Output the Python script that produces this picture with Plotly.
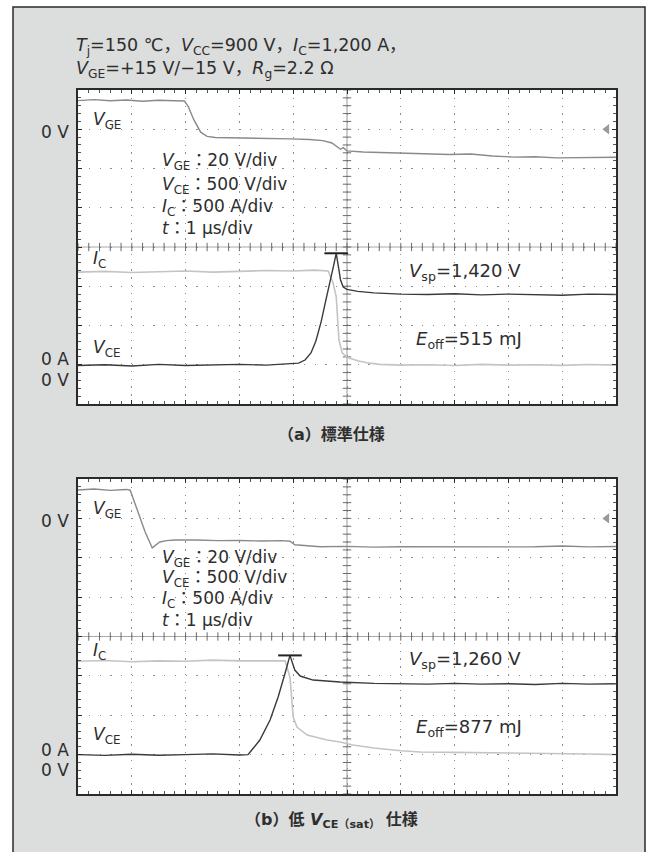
import numpy as np
import plotly.graph_objects as go

# ---------------- data ----------------
# time axis: 1 us/div, 10 div
# Panel (a) standard spec
A_VGE_T = [0, 0.3, 0.6, 0.9, 1.2, 1.5, 1.8, 1.98, 2.05, 2.15, 2.28, 2.4, 2.55, 2.8, 3.2, 3.6, 3.95,
           4.3, 4.55, 4.72, 4.82, 4.88, 4.93, 5.0, 5.3, 5.7, 6.1, 6.5, 6.9, 7.3, 7.7, 8.1, 8.5, 8.9,
           9.3, 9.7, 10.0]
A_VGE_V = [14.6, 15.1, 14.5, 14.9, 14.3, 14.8, 14.5, 14.4, 11.5, 5.0, -1.5, -3.6, -4.2, -4.3, -4.6,
           -4.5, -4.9, -5.2, -5.8, -7.0, -8.8, -10.2, -9.4, -11.0, -11.6, -12.0, -12.4, -12.7, -12.9,
           -12.6, -13.6, -14.2, -14.0, -14.6, -14.4, -14.5, -14.3]
A_IC_T = [0, 0.5, 1.0, 1.5, 2.0, 2.5, 3.0, 3.5, 4.0, 4.4, 4.65, 4.74, 4.80, 4.82, 4.85, 4.91, 5.02,
          5.2, 5.37, 5.61, 6.0, 6.5, 7.0, 7.5, 8.0, 8.5, 9.0, 9.5, 10.0]
A_IC_I = [1180, 1190, 1175, 1185, 1195, 1180, 1190, 1200, 1195, 1205, 1195, 1045, 866, 611, 318,
          153, 89, 50, 25, 5, -5, 0, -10, 5, -5, 0, -8, 3, -5]
A_VCE_T = [0, 0.5, 1.0, 1.5, 2.0, 2.5, 3.0, 3.5, 4.0, 4.1, 4.22, 4.33, 4.42, 4.52, 4.6, 4.68, 4.75,
           4.80, 4.84, 4.88, 4.93, 5.0, 5.2, 5.5, 6.0, 6.5, 7.0, 7.5, 8.0, 8.5, 9.0, 9.5, 10.0]
A_VCE_V = [-10, 0, -15, 5, -10, -5, 5, -5, 10, 20, 60, 150, 300, 550, 800, 1030, 1260, 1420, 1250,
           1080, 990, 960, 935, 915, 900, 895, 905, 890, 900, 895, 885, 900, 895]

# Panel (b) low VCE(sat) spec
B_VGE_T = [0, 0.3, 0.6, 0.9, 0.97, 1.05, 1.15, 1.25, 1.38, 1.45, 1.52, 1.65, 1.8, 2.2, 2.6, 3.0,
           3.4, 3.8, 3.94, 4.03, 4.2, 4.5, 5.0, 5.5, 6.0, 6.5, 7.0, 7.5, 8.0, 8.5, 9.0, 9.5, 10.0]
B_VGE_V = [14.4, 14.9, 14.2, 14.7, 14.3, 8.0, 0.7, -7.0, -15.0, -13.5, -12.0, -11.3, -11.0, -11.0,
           -11.3, -11.2, -11.5, -11.3, -11.6, -13.4, -13.8, -14.4, -14.2, -14.6, -14.4, -14.5,
           -14.3, -14.6, -14.5, -14.4, -14.0, -14.5, -14.3]
B_IC_T = [0, 0.5, 1.0, 1.5, 2.0, 2.5, 3.0, 3.5, 3.85, 3.94, 3.98, 4.0, 4.07, 4.26, 4.63, 4.87,
          5.11, 5.5, 6.0, 6.36, 7.0, 7.5, 8.22, 9.0, 9.5, 10.0]
B_IC_I = [1185, 1195, 1180, 1190, 1185, 1200, 1190, 1195, 1190, 985, 693, 477, 350, 249, 185, 160,
          122, 85, 50, 33, 28, 25, 20, 12, 8, 0]
B_VCE_T = [0, 0.5, 1.0, 1.5, 2.0, 2.5, 3.0, 3.16, 3.2, 3.38, 3.57, 3.72, 3.85, 3.94, 4.03, 4.13,
           4.37, 4.87, 5.5, 6.0, 6.5, 7.0, 7.5, 8.0, 8.5, 9.0, 9.5, 10.0]
B_VCE_V = [0, -10, 5, -8, 0, 10, -5, 0, 33, 185, 439, 732, 1036, 1260, 1074, 998, 947, 922, 905,
           900, 895, 905, 895, 900, 890, 905, 895, 900]

A_VSP = 1420
B_VSP = 1260
A_EOFF = 515
B_EOFF = 877

HEADER_1 = "<i>T</i><sub>j</sub>=150 ℃，<i>V</i><sub>CC</sub>=900 V，<i>I</i><sub>C</sub>=1,200 A，"
HEADER_2 = "<i>V</i><sub>GE</sub>=+15 V/−15 V，<i>R</i><sub>g</sub>=2.2 Ω"
SCALE_LINES = ["<i>V</i><sub>GE</sub>：20 V/div", "<i>V</i><sub>CE</sub>：500 V/div",
               "<i>I</i><sub>C</sub>：500 A/div", "<i>t</i>：1 µs/div"]
CAPTION_A = "（a）標準仕様"
CAPTION_B = "（b）低 <i>V</i><sub>CE（sat）</sub> 仕様"

# ---------------- styling ----------------
W, H = 655, 852
FONT = "DejaVu Sans, Noto Sans CJK JP"
TXT = "#2e2e2e"
BG = "#dcdddd"
FRAME = "#2a2a2a"
GRID = "#8c8c8c"
C_VGE = "#8a8a8a"
C_VCE = "#3a3a3a"
C_IC = "#c4c4c4"


def px(x, y):
    return x / W, 1 - y / H


PLOT_L, PLOT_R = 78, 616
PANELS = [(90, 404), (479, 794)]

fig = go.Figure()

layout = dict(width=W, height=H, margin=dict(l=0, r=0, t=0, b=0),
              paper_bgcolor=BG, plot_bgcolor="white", showlegend=False,
              font=dict(family=FONT, color=TXT))

panel_data = [
    (A_VGE_T, A_VGE_V, A_IC_T, A_IC_I, A_VCE_T, A_VCE_V, A_VSP, A_EOFF),
    (B_VGE_T, B_VGE_V, B_IC_T, B_IC_I, B_VCE_T, B_VCE_V, B_VSP, B_EOFF),
]

shapes = []
annotations = []


def add(text, x, y, size=16, xanchor="left", family=FONT):
    ax, ay = px(x, y)
    annotations.append(dict(text=text, x=ax, y=ay, xref="paper", yref="paper",
                            xanchor=xanchor, yanchor="middle", showarrow=False,
                            font=dict(size=size, family=family, color=TXT)))


for i, (top, bot) in enumerate(PANELS):
    xname = "x" if i == 0 else "x2"
    xkey = "xaxis" if i == 0 else "xaxis2"
    yv = "y" if i == 0 else "y3"
    yvkey = "yaxis" if i == 0 else "yaxis3"
    yc = "y2" if i == 0 else "y4"
    yckey = "yaxis2" if i == 0 else "yaxis4"
    xd = [PLOT_L / W, PLOT_R / W]
    yd = [1 - bot / H, 1 - top / H]

    layout[xkey] = dict(domain=xd, anchor=yv, range=[0, 10], dtick=1, tick0=0,
                        showgrid=True, gridcolor=GRID, gridwidth=1.3, griddash="1.3px,6.5px",
                        zeroline=False, showticklabels=False,
                        ticks="inside", ticklen=4, tickcolor=FRAME, tickwidth=1,
                        minor=dict(dtick=0.2, ticks="inside", ticklen=3, tickcolor="#555",
                                   tickwidth=1, showgrid=False),
                        showline=True, linecolor=FRAME, linewidth=1.5, mirror="ticks",
                        fixedrange=True)
    layout[yvkey] = dict(domain=yd, anchor=xname, range=[-140, 20], dtick=20, tick0=0,
                         showgrid=True, gridcolor=GRID, gridwidth=1.3, griddash="1.3px,9.45px",
                         zeroline=False, showticklabels=False,
                         ticks="inside", ticklen=4, tickcolor=FRAME, tickwidth=1,
                         minor=dict(dtick=4, ticks="inside", ticklen=3, tickcolor="#555",
                                    tickwidth=1, showgrid=False),
                         showline=True, linecolor=FRAME, linewidth=1.5, mirror="ticks",
                         fixedrange=True)
    layout[yckey] = dict(overlaying=yv, anchor=xname, range=[-500, 3500], visible=False,
                         showgrid=False, zeroline=False, fixedrange=True)

    # crosshair
    shapes.append(dict(type="line", xref=xname, yref=yv, x0=5, x1=5, y0=-140, y1=20,
                       line=dict(color="#9a9a9a", width=1), layer="below"))
    shapes.append(dict(type="line", xref=xname, yref=yv, x0=0, x1=10, y0=-60, y1=-60,
                       line=dict(color="#a8a8a8", width=1), layer="below"))
    fig.add_trace(go.Scatter(x=np.arange(0, 10.001, 0.2), y=np.full(51, -60.0), mode="markers",
                             xaxis=xname, yaxis=yv, hoverinfo="skip",
                             marker=dict(symbol="line-ns", size=6,
                                         line=dict(color="#6a6a6a", width=1))))
    fig.add_trace(go.Scatter(x=np.full(41, 5.0), y=np.arange(-140, 20.001, 4), mode="markers",
                             xaxis=xname, yaxis=yv, hoverinfo="skip",
                             marker=dict(symbol="line-ew", size=6,
                                         line=dict(color="#6a6a6a", width=1))))

    vt, vv, it, ii, ct, cv, vsp, eoff = panel_data[i]
    fig.add_trace(go.Scatter(x=it, y=ii, mode="lines", xaxis=xname, yaxis=yc,
                             line=dict(color=C_IC, width=1.6), hoverinfo="skip"))
    fig.add_trace(go.Scatter(x=ct, y=cv, mode="lines", xaxis=xname, yaxis=yc,
                             line=dict(color=C_VCE, width=1.4), hoverinfo="skip"))
    fig.add_trace(go.Scatter(x=vt, y=vv, mode="lines", xaxis=xname, yaxis=yv,
                             line=dict(color=C_VGE, width=1.4), hoverinfo="skip"))
    # ground reference arrow for VGE
    fig.add_trace(go.Scatter(x=[9.83], y=[0], mode="markers", xaxis=xname, yaxis=yv,
                             hoverinfo="skip",
                             marker=dict(symbol="triangle-left", size=9, color="#9a9a9a")))
    # surge peak marker
    tpk = ct[int(np.argmax(cv))]
    shapes.append(dict(type="line", xref=xname, yref=yc, x0=tpk - 0.22, x1=tpk + 0.22,
                       y0=vsp, y1=vsp, line=dict(color="#222", width=2)))

    # labels
    dy = top - 90
    add("<i>V</i><sub>GE</sub>", 91, 120 + dy, 17)
    add("0 V", 71, 132 + dy, 17, "right")
    ys = [162, 186, 207, 228] if i == 0 else [558, 578, 599, 620]
    for k, yy in enumerate(ys):
        add(SCALE_LINES[k], 160, yy, 17)
    if i == 0:
        add("<i>I</i><sub>C</sub>", 91, 260, 17)
        add("<i>V</i><sub>CE</sub>", 91, 348, 17)
        add("0 A", 71, 359, 17, "right")
        add("0 V", 71, 380, 17, "right")
        add(f"<i>V</i><sub>sp</sub>={vsp:,} V", 407, 272, 18)
        add(f"<i>E</i><sub>off</sub>={eoff} mJ", 414, 340, 18)
    else:
        add("<i>I</i><sub>C</sub>", 91, 651, 17)
        add("<i>V</i><sub>CE</sub>", 91, 735, 17)
        add("0 A", 71, 750, 17, "right")
        add("0 V", 71, 770, 17, "right")
        add(f"<i>V</i><sub>sp</sub>={vsp:,} V", 407, 660, 18)
        add(f"<i>E</i><sub>off</sub>={eoff} mJ", 414, 728, 18)

# header and captions
add(HEADER_1, 74, 46, 17.5)
add(HEADER_2, 74, 69, 17.5)
add("<b>" + CAPTION_A + "</b>", 331, 434, 16, "center")
add("<b>" + CAPTION_B + "</b>", 331, 820, 16, "center")

# outer frame: white margins outside the gray panel
fx0, fy0 = px(13, 7)
fx1, _ = px(645, 7)
shapes += [
    dict(type="rect", xref="paper", yref="paper", x0=0, x1=fx0, y0=-0.1, y1=1.1,
         fillcolor="white", line=dict(width=0), layer="below"),
    dict(type="rect", xref="paper", yref="paper", x0=fx1, x1=1.1, y0=-0.1, y1=1.1,
         fillcolor="white", line=dict(width=0), layer="below"),
    dict(type="rect", xref="paper", yref="paper", x0=-0.1, x1=1.1, y0=fy0, y1=1.1,
         fillcolor="white", line=dict(width=0), layer="below"),
    dict(type="rect", xref="paper", yref="paper", x0=fx0, x1=fx1, y0=-0.1, y1=fy0,
         fillcolor="rgba(0,0,0,0)", line=dict(color=FRAME, width=1.5)),
]

layout["shapes"] = shapes
layout["annotations"] = annotations
fig.update_layout(**layout)
fig.write_html("out.html", config={"displayModeBar": False},
               post_script="document.body.style.margin='0px';document.body.style.overflow='hidden';")
